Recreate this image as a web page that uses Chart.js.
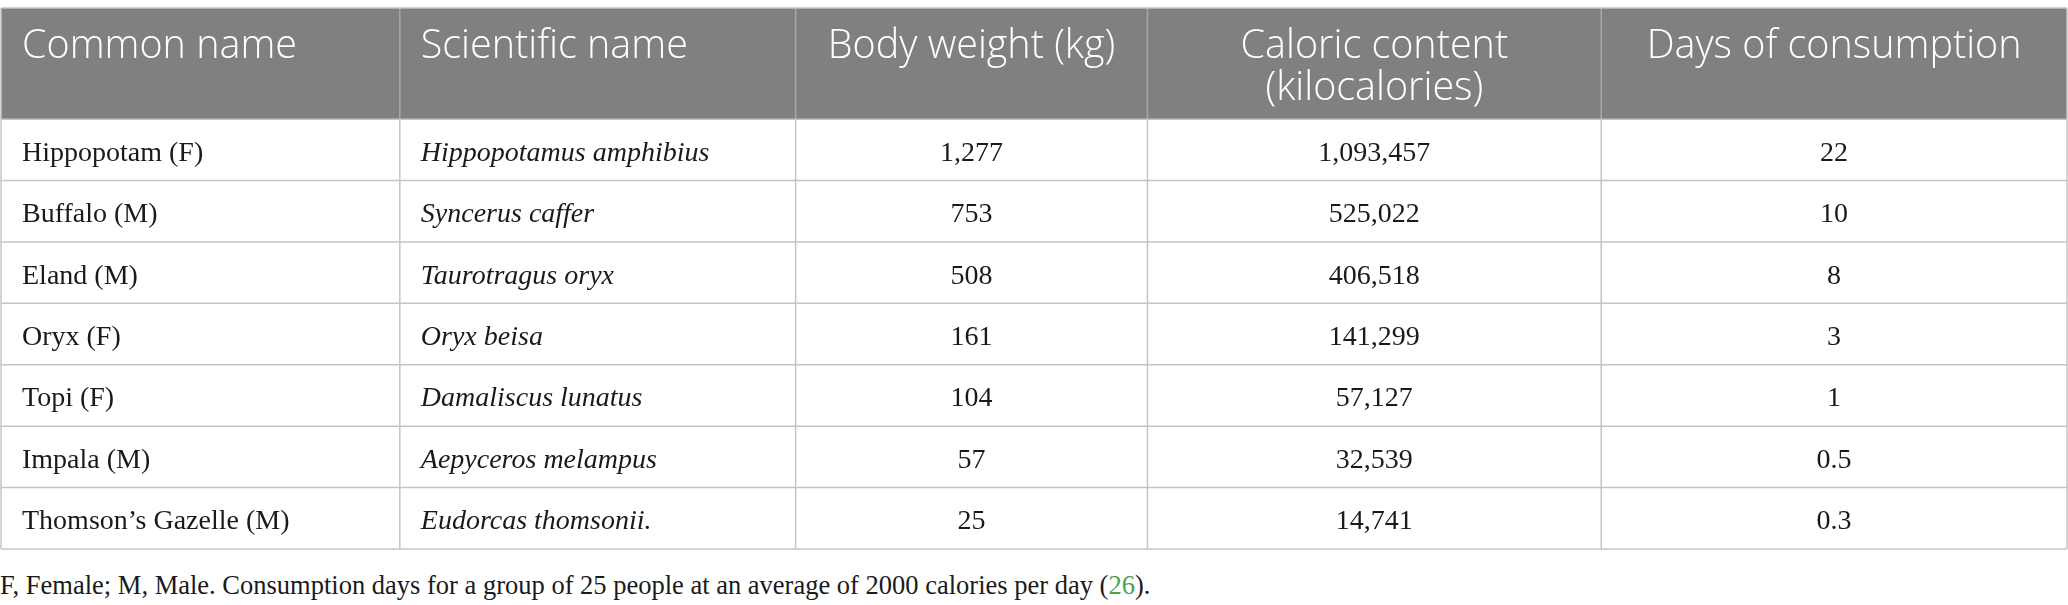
<!DOCTYPE html>
<html>
<head>
<meta charset="utf-8">
<script src="https://cdn.jsdelivr.net/npm/chart.js@4"></script>
<style>
  html, body { margin: 0; padding: 0; background: #fff; }
  #wrap { position: relative; width: 2068px; height: 605px; }
  #note {
    position: absolute; left: 0; top: 570px;
    font: 26.5px "Liberation Serif", serif; color: #1a1a1a; white-space: nowrap;
  }
  #note span { color: #4da04d; }
</style>
</head>
<body>
<div id="wrap">
  <canvas id="tabel" width="2068" height="560"></canvas>
  <div id="note">F, Female; M, Male. Consumption days for a group of 25 people at an average of 2000 calories per day (<span>26</span>).</div>
</div>
<script>
// data tabel
const columnHeaders = ["Common name", "Scientific name", "Body weight (kg)", "Caloric content\n(kilocalories)", "Days of consumption"];
const commonNames = ["Hippopotam (F)", "Buffalo (M)", "Eland (M)", "Oryx (F)", "Topi (F)", "Impala (M)", "Thomson\u2019s Gazelle (M)"];
const scientificNames = ["Hippopotamus amphibius", "Syncerus caffer", "Taurotragus oryx", "Oryx beisa", "Damaliscus lunatus", "Aepyceros melampus", "Eudorcas thomsonii."];
const bodyWeightKg = [1277, 753, 508, 161, 104, 57, 25];
const caloricContentKcal = [1093457, 525022, 406518, 141299, 57127, 32539, 14741];
const daysOfConsumption = [22, 10, 8, 3, 1, 0.5, 0.3];

// layout (bukan data)
const colWidths = [399, 396, 352, 454, 466];
const HEADER_UNITS = 1.81;
const colEdges = [0];
colWidths.forEach(w => colEdges.push(colEdges[colEdges.length - 1] + w));

const fmt = v => v.toLocaleString("en-US");
const rows = commonNames.map((n, i) => [n, scientificNames[i], fmt(bodyWeightKg[i]), fmt(caloricContentKcal[i]), String(daysOfConsumption[i])]);

const tablePlugin = {
  id: "tablePlugin",
  afterDraw(chart) {
    const ctx = chart.ctx;
    const sx = chart.scales.x, sy = chart.scales.y;
    const cx = i => sx.getPixelForValue(colEdges[i]);
    const ry = r => sy.getPixelForValue(r === 0 ? 0 : HEADER_UNITS + (r - 1));
    const nCols = colWidths.length, nRows = rows.length;

    ctx.save();
    // header
    ctx.fillStyle = "#808080";
    ctx.fillRect(cx(0), ry(0), cx(nCols) - cx(0), ry(1) - ry(0));

    // garis
    ctx.lineWidth = 1.5;
    for (let c = 0; c <= nCols; c++) {
      ctx.strokeStyle = (c === 0 || c === nCols) ? "#c4c4c4" : "#a8a8a8";
      ctx.beginPath(); ctx.moveTo(cx(c), ry(0)); ctx.lineTo(cx(c), ry(1)); ctx.stroke();
      ctx.strokeStyle = "#c4c4c4";
      ctx.beginPath(); ctx.moveTo(cx(c), ry(1)); ctx.lineTo(cx(c), ry(nRows + 1)); ctx.stroke();
    }
    ctx.strokeStyle = "#c4c4c4";
    for (let r = 0; r <= nRows + 1; r++) {
      ctx.beginPath(); ctx.moveTo(cx(0), ry(r)); ctx.lineTo(cx(nCols), ry(r)); ctx.stroke();
    }

    // teks header
    ctx.fillStyle = "#ffffff";
    ctx.font = '300 39.5px "Open Sans"';
    ctx.textBaseline = "alphabetic";
    columnHeaders.forEach((h, c) => {
      const lines = h.split("\n");
      lines.forEach((ln, k) => {
        const yy = ry(0) + 50 + k * 42;
        if (c < 2) { ctx.textAlign = "left"; ctx.fillText(ln, cx(c) + 21, yy); }
        else { ctx.textAlign = "center"; ctx.fillText(ln, (cx(c) + cx(c + 1)) / 2, yy); }
      });
    });

    // teks isi
    ctx.fillStyle = "#1a1a1a";
    rows.forEach((row, r) => {
      const mid = (ry(r + 1) + ry(r + 2)) / 2 + 11;
      row.forEach((txt, c) => {
        ctx.font = (c === 1 ? "italic " : "") + '28px "Liberation Serif"';
        if (c < 2) { ctx.textAlign = "left"; ctx.fillText(txt, cx(c) + 21, mid); }
        else { ctx.textAlign = "center"; ctx.fillText(txt, (cx(c) + cx(c + 1)) / 2, mid); }
      });
    });
    ctx.restore();
  }
};

new Chart(document.getElementById("tabel"), {
  type: "scatter",
  data: { datasets: [] },
  options: {
    responsive: false, animation: false,
    layout: { padding: { top: 8, left: 1, right: 1, bottom: 11 } },
    plugins: { legend: { display: false }, tooltip: { enabled: false } },
    scales: {
      x: { type: "linear", display: false, min: 0, max: colEdges[colEdges.length - 1] },
      y: { type: "linear", display: false, reverse: true, min: 0, max: HEADER_UNITS + rows.length }
    }
  },
  plugins: [tablePlugin]
});
</script>
</body>
</html>
